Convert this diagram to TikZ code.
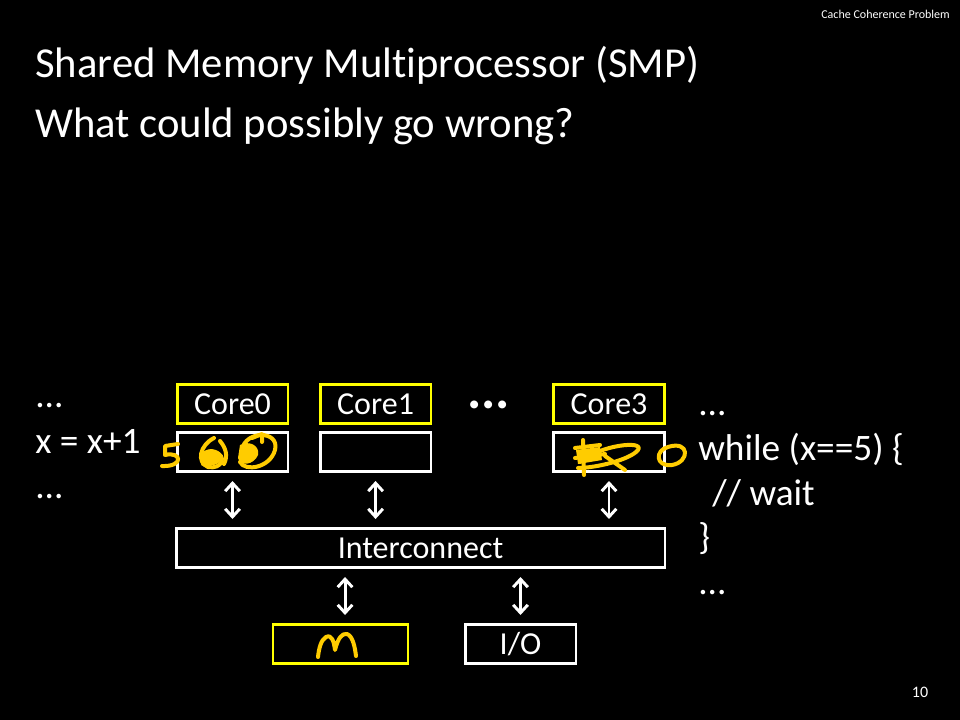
\documentclass[tikz,border=0pt]{standalone}
\usepackage{fontspec}
\setmainfont{Carlito}[Ligatures=NoCommon]
\usetikzlibrary{arrows.meta, positioning}
\definecolor{boxyellow}{RGB}{255, 255, 0}
\definecolor{ink}{RGB}{255, 204, 0}

\begin{document}
\begin{tikzpicture}[
          x=0.75pt, y=-0.75pt,
          core/.style={draw=boxyellow, line width=1.9pt, minimum width=82.9pt,
                       minimum height=29.6pt, inner sep=0pt, text=white,
                       font=\fontsize{24}{28}\selectfont},
          cache/.style={core, draw=white},
          txt/.style={text=white, inner sep=0pt, anchor=base west,
                      font=\fontsize{28}{34}\selectfont},
          dbl/.style={{Straight Barb[length=6pt, width=11pt]}-{Straight Barb[length=6pt, width=11pt]},
                      white, line width=2.2pt, shorten <=6pt, shorten >=6pt},
          hand/.style={ink, line width=3pt, line cap=round, line join=round},
        ]
        \fill[black] (0,0) rectangle (960,720);

        % headings
        \node[text=white, inner sep=0pt, anchor=base east, font=\fontsize{9}{11}\selectfont]
             (topic) at (950,19) {Cache Coherence Problem};
        \node[txt, font=\fontsize{32}{38}\selectfont] (title) at (35,78) {Shared Memory Multiprocessor (SMP)};
        \node[txt, font=\fontsize{32}{38}\selectfont] (sub) at (35,138) {What could possibly go wrong?};

        % cores and caches
        \node[core] (core0) at (232.5,404) {Core0};
        \node[core, right=22.5pt of core0] (core1) {Core1};
        \node[core] (core3) at (609,404) {Core3};
        \node[text=white, inner sep=0pt, anchor=base west, font=\fontsize{40}{44}\selectfont\bfseries]
             (dots) at (467,408) {...};

        \node[cache, below=4.5pt of core0] (cache0) {};
        \node[cache, below=4.5pt of core1] (cache1) {};
        \node[cache, below=4.5pt of core3] (cache3) {};

        \node[cache, minimum width=366.4pt] (ic) at (420.5,548) {Interconnect};
        \node[core, minimum width=101pt] (mem) at (340.5,644) {};
        \node[cache] (io) at (520.5,644) {I/O};

        \draw[dbl] (cache0.south) -- (cache0.south |- ic.north);
        \draw[dbl] (cache1.south) -- (cache1.south |- ic.north);
        \draw[dbl] (cache3.south) -- (cache3.south |- ic.north);
        \draw[dbl] ([xshift=3.4pt]mem.north |- ic.south) -- ([xshift=3.4pt]mem.north);
        \draw[dbl] (io.north |- ic.south) -- (io.north);

        % code on both sides
        \node[txt] (l1) at (35,407) {...};
        \node[txt] (l2) at (35,453) {x = x+1};
        \node[txt] (l3) at (35,498) {...};

        \node[txt] (r1) at (698,415) {...};
        \node[txt] (r2) at (698,460) {while (x==5) \{};
        \node[txt] (r3) at (712,505) {// wait};
        \node[txt] (r4) at (698,549) {\}};
        \node[txt] (r5) at (698,594) {...};

        % handwritten values
        \draw[hand] (178,444) -- (165,446) -- (165,455)
              .. controls (182,451) and (184,467) .. (162,466);
        \draw[hand] (214,438) .. controls (200,445) and (196,462) .. (208,467)
              .. controls (222,470) and (228,455) .. (214,452)
              .. controls (205,451) and (201,458) .. (203,464);
        \fill[ink] (203,452) .. controls (210,446) and (222,450) .. (222,458)
              .. controls (220,466) and (206,468) .. (202,462) -- cycle;
        \draw[hand] (220,441) .. controls (226,448) and (228,456) .. (224,464);
        \draw[hand] (242,450) .. controls (245,430) and (280,430) .. (275,450)
              .. controls (270,468) and (245,472) .. (240,462);
        \fill[ink] (240,445) .. controls (250,440) and (260,446) .. (258,455)
              .. controls (254,465) and (240,467) .. (238,458) -- cycle;
        \draw[hand] (252,438) -- (262,434) -- (262,442);

        \draw[hand] (583,440) -- (584,475);
        \draw[hand] (575,448) -- (600,445);
        \draw[hand] (575,458) -- (605,454);
        \fill[ink] (576,450) -- (600,447) -- (602,460) -- (578,464) -- cycle;
        \draw[hand] (580,462) .. controls (600,445) and (645,440) .. (638,450)
              .. controls (630,460) and (595,468) .. (578,468);
        \draw[hand] (605,456) -- (625,470);
        \draw[hand] (668,447) .. controls (690,440) and (690,462) .. (672,465)
              .. controls (655,467) and (655,450) .. (668,447);

        \draw[hand] (318,657) .. controls (319,648) and (321,640) .. (326,637)
              .. controls (332,634) and (334,642) .. (335,650)
              .. controls (338,638) and (342,633) .. (347,634)
              .. controls (353,636) and (355,648) .. (356,656);

        % slide number
        \node[text=white, inner sep=0pt, anchor=base, font=\fontsize{12}{14}\selectfont]
             (num) at (920,697) {10};
      \end{tikzpicture}
\end{document}
